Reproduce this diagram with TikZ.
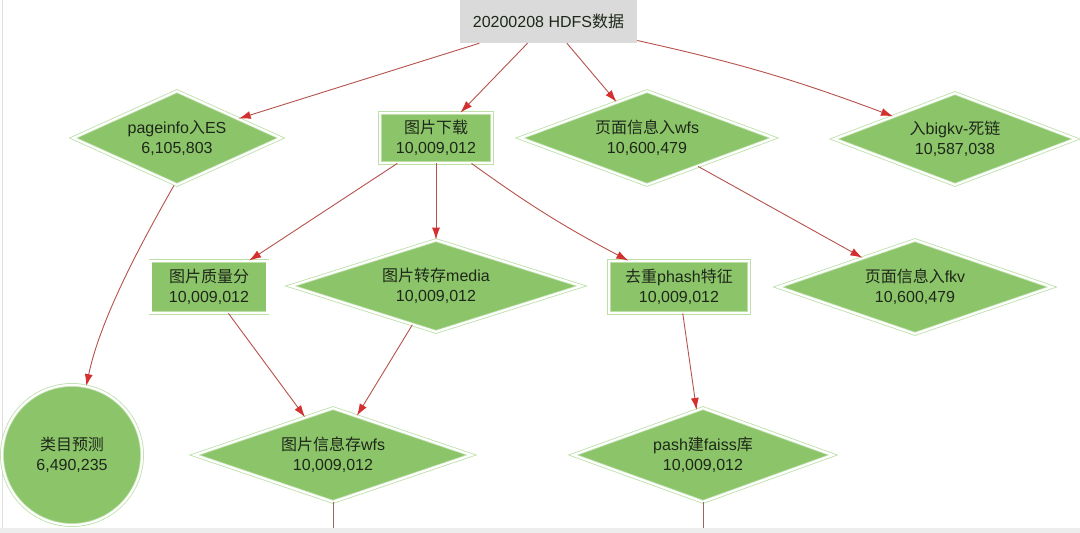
\documentclass[tikz,border=0pt]{standalone}
\usepackage{fontspec}
\setmainfont{Liberation Sans}
\newfontfamily\cjk{Noto Sans CJK SC}
\usetikzlibrary{shapes.geometric,arrows.meta}
\definecolor{nodefill}{RGB}{140,196,106}
\definecolor{nodeline}{RGB}{188,224,168}
\definecolor{edgecol}{RGB}{182,82,76}
\definecolor{arrowred}{RGB}{212,48,48}
\definecolor{topfill}{RGB}{218,218,218}
\definecolor{txt}{RGB}{30,40,25}
\begin{document}
\begin{tikzpicture}[x=1pt,y=-1pt,
  every node/.style={font=\fontsize{16}{20}\selectfont, text=txt, align=center, inner sep=0pt},
  base/.style={fill=nodefill, draw=nodeline, double=white, line width=0.8pt, double distance=2.2pt},
  dia/.style n args={3}{base, diamond, minimum width=#1, minimum height=#2, aspect=#3},
  boxnode/.style={base, rectangle},
  circnode/.style={base, circle},
  topnode/.style={fill=topfill, rectangle, minimum width=177pt, minimum height=43pt},
  edge/.style={draw=edgecol, line width=0.9pt, -{Latex[length=12pt,width=8pt,color=arrowred]}},
  tail/.style={draw=edgecol!55!gray, line width=0.9pt}]
\useasboundingbox (0,0) rectangle (1080,533);
\fill[white] (0,0) rectangle (1080,533);
\fill[gray!14] (0,528) rectangle (1080,533);
\draw[gray!25, line width=0.8pt] (2.5,0) -- (2.5,528);

\node[topnode] (top) at (548.5,21.5) {20200208 HDFS{\cjk 数据}};

\node[dia={208pt}{94pt}{2.21}] (pi) at (177,138) {pageinfo{\cjk 入}ES\\6,105,803};
\node[boxnode, minimum width=112pt, minimum height=50pt] (dl) at (436,138) {{\cjk 图片下载}\\10,009,012};
\node[dia={254pt}{94pt}{2.7}] (pw) at (647,138) {{\cjk 页面信息入}wfs\\10,600,479};
\node[dia={242pt}{92pt}{2.63}] (bk) at (955,139) {{\cjk 入}bigkv-{\cjk 死链}\\10,587,038};

\node[boxnode, minimum width=117pt, minimum height=52pt] (qs) at (209,287) {{\cjk 图片质量分}\\10,009,012};
\node[dia={291pt}{92pt}{3.16}] (md) at (436,286) {{\cjk 图片转存}media\\10,009,012};
\node[boxnode, minimum width=140pt, minimum height=52pt] (ph) at (679,287) {{\cjk 去重}phash{\cjk 特征}\\10,009,012};
\node[dia={274pt}{94pt}{2.91}] (fk) at (915,287) {{\cjk 页面信息入}fkv\\10,600,479};

\node[circnode, minimum size=140pt] (cat) at (72,455) {{\cjk 类目预测}\\6,490,235};
\node[dia={277pt}{94pt}{2.95}] (iw) at (333,455) {{\cjk 图片信息存}wfs\\10,009,012};
\node[dia={260pt}{94pt}{2.77}] (fs) at (703,455) {pash{\cjk 建}faiss{\cjk 库}\\10,009,012};

\coordinate (iwend) at (333,528);
\coordinate (fsend) at (703,528);

\draw[edge] (top) -- (pi);
\draw[edge] (top) -- (dl);
\draw[edge] (top) -- (pw);
\draw[edge] (top) to[bend left=4] (bk);

\draw[edge] ([xshift=-3pt]pi.south) .. controls (140,245) and (100,320) .. (cat);

\draw[edge] (dl) -- (qs);
\draw[edge] (dl) -- (md);
\draw[edge] (dl) to[bend right=4] (ph);
\draw[edge] (pw) -- (fk);

\draw[edge] (qs) -- (iw);
\draw[edge] (md) -- (iw);
\draw[edge] (ph) -- (fs);

\draw[tail] (iw) -- (iwend);
\draw[tail] (fs) -- (fsend);
\end{tikzpicture}
\end{document}
